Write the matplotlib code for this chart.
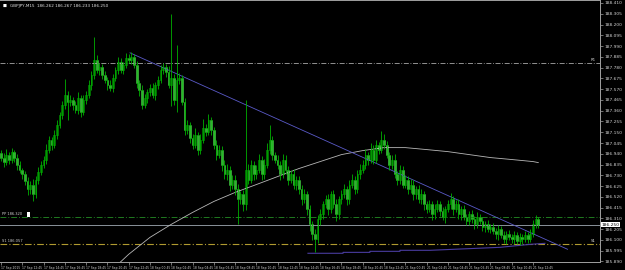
import numpy as np
from matplotlib import pyplot as plt
from matplotlib.transforms import blended_transform_factory

# GBPJPY M15 closes, one row per 8 bars (one time label)
closes = [
    186.903, 186.864, 186.932, 186.884, 186.961, 186.903, 186.835, 186.786,
    186.738, 186.670, 186.592, 186.640, 186.543, 186.689, 186.767, 186.835,
    186.884, 186.981, 187.078, 187.029, 187.127, 187.224, 187.321, 187.418,
    187.515, 187.447, 187.467, 187.418, 187.370, 187.486, 187.350, 187.467,
    187.515, 187.613, 187.710, 187.856, 187.758, 187.788, 187.710, 187.661,
    187.613, 187.583, 187.681, 187.758, 187.836, 187.758, 187.807, 187.875,
    187.856, 187.885, 187.807, 187.632, 187.564, 187.418, 187.486, 187.545,
    187.583, 187.515, 187.613, 187.661, 187.758, 187.788, 187.739, 187.613,
    187.681, 187.467, 187.661, 187.681, 187.447, 187.175, 187.224, 187.097,
    187.029, 187.127, 186.981, 187.078, 187.195, 187.156, 187.272, 187.175,
    187.029, 186.932, 186.981, 186.835, 186.738, 186.786, 186.640, 186.689,
    186.592, 186.495, 186.543, 186.446, 186.786, 186.689, 186.835, 186.738,
    186.786, 186.884, 186.738, 186.835, 186.981, 187.078, 186.932, 186.884,
    186.835, 186.738, 186.884, 186.786, 186.689, 186.738, 186.640, 186.689,
    186.592, 186.495, 186.543, 186.398, 186.252, 186.154, 186.106, 186.300,
    186.349, 186.446, 186.495, 186.398, 186.543, 186.446, 186.349, 186.495,
    186.543, 186.592, 186.495, 186.640, 186.689, 186.592, 186.738, 186.786,
    186.835, 186.932, 186.884, 186.981, 186.884, 187.029, 186.981, 187.078,
    187.029, 186.932, 186.835, 186.884, 186.738, 186.689, 186.786, 186.640,
    186.689, 186.592, 186.640, 186.543, 186.592, 186.495, 186.543, 186.446,
    186.398, 186.446, 186.349, 186.398, 186.446, 186.378, 186.320, 186.398,
    186.446, 186.495, 186.398, 186.446, 186.349, 186.398, 186.320, 186.281,
    186.349, 186.300, 186.252, 186.320, 186.281, 186.223, 186.252, 186.203,
    186.223, 186.184, 186.154, 186.203, 186.145, 186.106, 186.154, 186.125,
    186.106, 186.145, 186.087, 186.125, 186.106, 186.145, 186.106, 186.154,
    186.252, 186.300, 186.250,
]
first_open = 186.950

upper_wick = [
    0.03, 0.04, 0.05, 0.03, 0.04, 0.02, 0.03, 0.03,
    0.02, 0.03, 0.04, 0.03, 0.05, 0.03, 0.04, 0.03,
    0.03, 0.05, 0.04, 0.03, 0.04, 0.05, 0.03, 0.04,
    0.15, 0.04, 0.05, 0.03, 0.04, 0.06, 0.03, 0.05,
    0.04, 0.05, 0.04, 0.22, 0.05, 0.04, 0.03, 0.04,
    0.03, 0.05, 0.04, 0.03, 0.05, 0.04, 0.03, 0.05,
    0.04, 0.05, 0.03, 0.04, 0.03, 0.05, 0.04, 0.03,
    0.04, 0.05, 0.03, 0.04, 0.05, 0.04, 0.03, 0.06,
    0.62, 0.04, 0.34, 0.05, 0.03, 0.04, 0.05, 0.03,
    0.04, 0.06, 0.03, 0.05, 0.08, 0.04, 0.06, 0.03,
    0.03, 0.05, 0.04, 0.03, 0.04, 0.05, 0.03, 0.04,
    0.04, 0.05, 0.03, 0.04, 0.68, 0.05, 0.04, 0.03,
    0.04, 0.05, 0.03, 0.05, 0.06, 0.14, 0.04, 0.03,
    0.04, 0.03, 0.05, 0.04, 0.03, 0.04, 0.05, 0.03,
    0.03, 0.04, 0.05, 0.03, 0.04, 0.03, 0.05, 0.04,
    0.05, 0.03, 0.04, 0.05, 0.03, 0.04, 0.05, 0.03,
    0.04, 0.05, 0.03, 0.04, 0.05, 0.03, 0.04, 0.05,
    0.04, 0.05, 0.03, 0.06, 0.04, 0.05, 0.03, 0.08,
    0.05, 0.04, 0.03, 0.04, 0.05, 0.03, 0.04, 0.03,
    0.04, 0.03, 0.05, 0.04, 0.03, 0.04, 0.05, 0.03,
    0.03, 0.04, 0.03, 0.05, 0.04, 0.03, 0.04, 0.03,
    0.04, 0.06, 0.03, 0.04, 0.05, 0.03, 0.04, 0.03,
    0.03, 0.04, 0.03, 0.05, 0.03, 0.04, 0.03, 0.04,
    0.03, 0.04, 0.03, 0.04, 0.03, 0.04, 0.03, 0.04,
    0.03, 0.04, 0.03, 0.04, 0.03, 0.04, 0.03, 0.05,
    0.04, 0.04, 0.02,
]
lower_wick = [
    0.03, 0.05, 0.03, 0.04, 0.03, 0.04, 0.05, 0.03,
    0.04, 0.03, 0.05, 0.04, 0.06, 0.03, 0.04, 0.03,
    0.03, 0.04, 0.03, 0.05, 0.03, 0.04, 0.03, 0.04,
    0.04, 0.18, 0.04, 0.05, 0.03, 0.04, 0.05, 0.03,
    0.04, 0.03, 0.05, 0.04, 0.03, 0.05, 0.04, 0.03,
    0.05, 0.03, 0.04, 0.03, 0.04, 0.03, 0.04, 0.03,
    0.03, 0.04, 0.03, 0.05, 0.06, 0.04, 0.03, 0.05,
    0.04, 0.03, 0.05, 0.04, 0.03, 0.04, 0.05, 0.03,
    0.21, 0.05, 0.12, 0.04, 0.03, 0.05, 0.04, 0.05,
    0.04, 0.03, 0.05, 0.04, 0.03, 0.04, 0.03, 0.05,
    0.04, 0.05, 0.03, 0.06, 0.04, 0.05, 0.06, 0.04,
    0.05, 0.24, 0.04, 0.06, 0.05, 0.04, 0.03, 0.05,
    0.04, 0.03, 0.05, 0.04, 0.03, 0.04, 0.05, 0.03,
    0.04, 0.05, 0.03, 0.04, 0.05, 0.03, 0.04, 0.05,
    0.04, 0.05, 0.03, 0.05, 0.06, 0.05, 0.12, 0.04,
    0.05, 0.04, 0.03, 0.05, 0.04, 0.03, 0.06, 0.04,
    0.04, 0.03, 0.05, 0.04, 0.03, 0.04, 0.03, 0.04,
    0.03, 0.04, 0.05, 0.03, 0.04, 0.03, 0.04, 0.03,
    0.04, 0.03, 0.05, 0.04, 0.03, 0.05, 0.04, 0.03,
    0.03, 0.04, 0.03, 0.05, 0.04, 0.03, 0.04, 0.05,
    0.04, 0.03, 0.05, 0.04, 0.03, 0.04, 0.03, 0.05,
    0.03, 0.04, 0.05, 0.03, 0.04, 0.05, 0.03, 0.04,
    0.04, 0.03, 0.05, 0.04, 0.03, 0.04, 0.05, 0.03,
    0.04, 0.03, 0.04, 0.05, 0.03, 0.04, 0.05, 0.03,
    0.04, 0.05, 0.03, 0.04, 0.05, 0.03, 0.04, 0.03,
    0.03, 0.04, 0.03,
]

time_labels = [
    "17 Sep 2015", "17 Sep 12:45", "17 Sep 14:45", "17 Sep 16:45", "17 Sep 18:45",
    "17 Sep 20:45", "17 Sep 22:45", "18 Sep 00:45", "18 Sep 02:45", "18 Sep 04:45",
    "18 Sep 06:45", "18 Sep 08:45", "18 Sep 10:45", "18 Sep 12:45", "18 Sep 14:45",
    "18 Sep 16:45", "18 Sep 18:45", "18 Sep 20:45", "18 Sep 22:45", "21 Sep 00:45",
    "21 Sep 02:45", "21 Sep 04:45", "21 Sep 06:45", "21 Sep 08:45", "21 Sep 10:45",
    "21 Sep 12:45",
]
price_labels = [
    188.410, 188.305, 188.200, 188.095, 187.990, 187.885, 187.780, 187.675,
    187.570, 187.465, 187.360, 187.255, 187.150, 187.045, 186.940, 186.835,
    186.730, 186.625, 186.520, 186.415, 186.310, 186.205, 186.100, 185.995,
    185.890,
]

# slow moving average, read every 8 bars
ma_bars = [40, 48, 56, 64, 72, 80, 88, 96, 104, 112, 120, 128, 136, 144,
           152, 160, 168, 176, 184, 192, 200, 202]
ma_vals = [185.766, 185.960, 186.125, 186.252, 186.368, 186.475, 186.563,
           186.640, 186.718, 186.796, 186.864, 186.932, 186.971, 187.000,
           187.000, 186.981, 186.961, 186.932, 186.903, 186.884, 186.864,
           186.854]

trend_bars = [48.5, 213.0]
trend_vals = [187.924, 186.009]

low_bars = [115.4, 128.6, 128.6, 138.7, 138.7, 150.0, 150.0, 161.3, 187.6, 198.9, 204.5]
low_vals = [185.970, 185.970, 185.979, 185.979, 185.989, 185.989, 185.999,
            185.999, 186.028, 186.057, 186.067]

r1_level = 187.827
pp_level = 186.320
s1_level = 186.057
bid = 186.250
title = "GBPJPY,M15  186.262 186.267 186.233 186.250"

c = np.array(closes)
o = np.concatenate([[first_open], c[:-1]])
hi = np.maximum(o, c) + np.array(upper_wick)
lo = np.minimum(o, c) - np.array(lower_wick)
idx = np.arange(len(c))
up = c >= o

fig = plt.figure(figsize=(6.25, 2.7), dpi=100, facecolor='black')
ax = fig.add_axes([0, 8 / 270, 600 / 625, 262 / 270])
ax.set_facecolor('black')

# level lines
ax.axhline(r1_level, color='#a8a8a8', lw=0.6, ls=(0, (6, 2, 1, 2)))
ax.axhline(pp_level, color='#1f7a1f', lw=0.7, ls=(0, (6, 2, 1, 2)))
ax.axhline(s1_level, color='#b09a30', lw=0.8, ls=(0, (6, 2, 1, 2)))
ax.axhline(bid, color='#8a929a', lw=0.7)

ax.plot(ma_bars, ma_vals, color='#b8b8b8', lw=0.6)
ax.plot(trend_bars, trend_vals, color='#5a5ac8', lw=0.6)
ax.plot(low_bars, low_vals, color='#4a3ca0', lw=0.8)

# candles
ax.vlines(idx, lo, hi, color='#00b000', lw=0.6)
body = np.maximum(np.abs(c - o), 0.004)
ax.bar(idx[up], body[up], bottom=np.minimum(o, c)[up], width=0.65,
       color='#003000', edgecolor='#00b000', linewidth=0.4)
ax.bar(idx[~up], body[~up], bottom=np.minimum(o, c)[~up], width=0.65,
       color='#e6ffe6', edgecolor='#00b000', linewidth=0.4)

ax.set_xlim(-0.38, 225.2)
ax.set_ylim(185.885, 188.439)

ax.yaxis.tick_right()
ax.set_yticks(price_labels)
ax.set_yticklabels(['%.3f' % v for v in price_labels])
ax.set_xticks(idx[::8])
ax.set_xticklabels(time_labels, ha='left')
ax.tick_params(colors='#a0a0a0', labelcolor='#d0d0d0', labelsize=3.2,
               length=2, width=0.5, pad=1)
ax.tick_params(axis='x', labelsize=2.2)
for s in ['left']:
    ax.spines[s].set_visible(False)
for s in ['right', 'bottom', 'top']:
    ax.spines[s].set_color('#a0a0a0')
    ax.spines[s].set_linewidth(0.7)

# text labels
tr = blended_transform_factory(ax.transAxes, ax.transData)
ax.text(1.003, bid, '%.3f' % bid, transform=tr, fontsize=3.2, color='black',
        va='center', ha='left',
        bbox=dict(boxstyle='square,pad=0.15', fc='white', ec='none'), clip_on=False)
ax.text(0.004, pp_level + 0.015, 'PP 186.320', transform=tr, fontsize=2.6,
        color='#d0d0d0', va='bottom')
ax.text(0.046, pp_level + 0.012, '  ', transform=tr, fontsize=2.6,
        va='bottom', bbox=dict(boxstyle='square,pad=0.1', fc='white', ec='none'))
ax.text(0.004, s1_level + 0.015, 'S1 186.057', transform=tr, fontsize=2.6,
        color='#d0d0d0', va='bottom')
ax.text(0.993, r1_level + 0.012, 'R1', transform=tr, fontsize=2.8,
        color='#d0d0d0', va='bottom', ha='right')
ax.text(0.993, s1_level + 0.012, 'S1', transform=tr, fontsize=2.8,
        color='#d0d0d0', va='bottom', ha='right')

fig.text(3 / 625, 1 - 7 / 270, '\u25a0', fontsize=3, color='white')
fig.text(10 / 625, 1 - 7 / 270, title, fontsize=3, color='#e0e0e0')

plt.savefig('out.png', dpi=100, facecolor='black')
